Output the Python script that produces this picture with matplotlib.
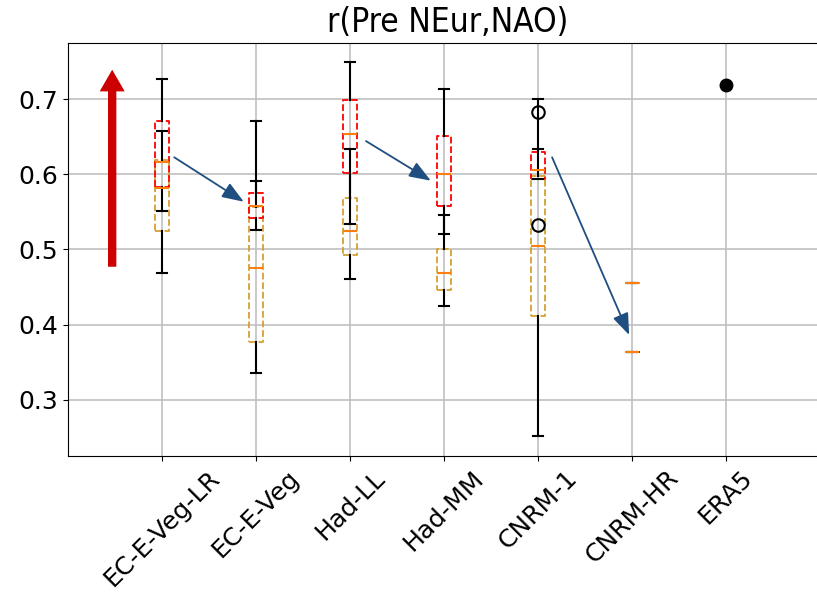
import matplotlib
matplotlib.use("Agg")
import matplotlib.pyplot as plt

models = ["EC-E-Veg-LR", "EC-E-Veg", "Had-LL", "Had-MM", "CNRM-1", "CNRM-HR", "ERA5"]
positions = [1, 2, 3, 4, 5, 6]

# red (dashed) boxes
red_q1 = [0.583, 0.542, 0.602, 0.558, 0.594, 0.363]
red_med = [0.616, 0.558, 0.653, 0.600, 0.605, 0.363]
red_q3 = [0.671, 0.575, 0.699, 0.651, 0.629, 0.363]
red_lo = [0.551, 0.526, 0.534, 0.521, 0.594, 0.363]
red_hi = [0.727, 0.671, 0.749, 0.713, 0.634, 0.363]
red_fliers = [[], [], [], [], [0.683, 0.533], []]

# goldenrod (dashed) boxes
gold_q1 = [0.524, 0.377, 0.492, 0.446, 0.412, 0.456]
gold_med = [0.582, 0.475, 0.525, 0.469, 0.505, 0.456]
gold_q3 = [0.619, 0.557, 0.568, 0.501, 0.597, 0.456]
gold_lo = [0.469, 0.336, 0.461, 0.425, 0.252, 0.456]
gold_hi = [0.658, 0.591, 0.633, 0.546, 0.700, 0.456]
gold_fliers = [[], [], [], [], [], []]

era5_value = 0.719

# annotation arrows (data coords)
red_arrow = (0.47, 0.477, 0.47, 0.739)
blue_arrows = [((1.13, 0.6225), (1.87, 0.5634)),
               ((3.17, 0.6441), (3.86, 0.5914)),
               ((5.15, 0.6225), (5.97, 0.3862))]

W, H = 817, 599
fig = plt.figure(figsize=(W / 100, H / 100), dpi=100)
ax = fig.add_axes([68 / W, (H - 456) / H, 760 / W, 413 / H])


def stats(q1, med, q3, lo, hi, fl):
    return [dict(q1=a, med=b, q3=c, whislo=d, whishi=e, fliers=f)
            for a, b, c, d, e, f in zip(q1, med, q3, lo, hi, fl)]


common = dict(widths=0.15, capwidths=0.1, showfliers=True,
              whiskerprops=dict(color="black", linewidth=1.5),
              capprops=dict(color="black", linewidth=1.5),
              medianprops=dict(color="#ff7f0e", linewidth=1.5),
              flierprops=dict(marker="o", markerfacecolor="none",
                              markeredgecolor="black", markersize=9,
                              markeredgewidth=1.5))

ax.bxp(stats(gold_q1, gold_med, gold_q3, gold_lo, gold_hi, gold_fliers),
       positions=positions,
       boxprops=dict(color="#d4a030", linestyle="--", linewidth=1.3),
       **common)
ax.bxp(stats(red_q1, red_med, red_q3, red_lo, red_hi, red_fliers),
       positions=positions,
       boxprops=dict(color="red", linestyle="--", linewidth=1.3),
       **common)

ax.plot([7], [era5_value], "o", color="black", markersize=9)

ax.set_xlim(0, 760 / 94)
ax.set_ylim(0.2253, 0.7745)
ax.set_xticks(range(1, 8))
ax.set_xticklabels(models, rotation=45, fontsize=18)
ax.set_yticks([0.3, 0.4, 0.5, 0.6, 0.7])
ax.tick_params(axis="y", labelsize=18)
ax.grid(True, color="#c0c0c0", linewidth=1.2)
ax.set_axisbelow(True)
ax.spines["right"].set_visible(False)
ax.set_title("r(Pre NEur,NAO)", fontsize=24, fontstretch="condensed", pad=8)

x0, y0, x1, y1 = red_arrow
ax.annotate("", xy=(x1, y1), xytext=(x0, y0),
            arrowprops=dict(arrowstyle="simple,head_length=1.3,head_width=1.5,tail_width=0.5",
                            color="#cc0000", lw=0, mutation_scale=12,
                            shrinkA=0, shrinkB=0))
for (sx, sy), (ex, ey) in blue_arrows:
    ax.annotate("", xy=(ex, ey), xytext=(sx, sy),
                arrowprops=dict(arrowstyle="-|>,head_length=1.2,head_width=0.45",
                                color="#1f4e80", lw=1.3, mutation_scale=11,
                                shrinkA=0, shrinkB=0))

fig.savefig("out.png", dpi=100)
